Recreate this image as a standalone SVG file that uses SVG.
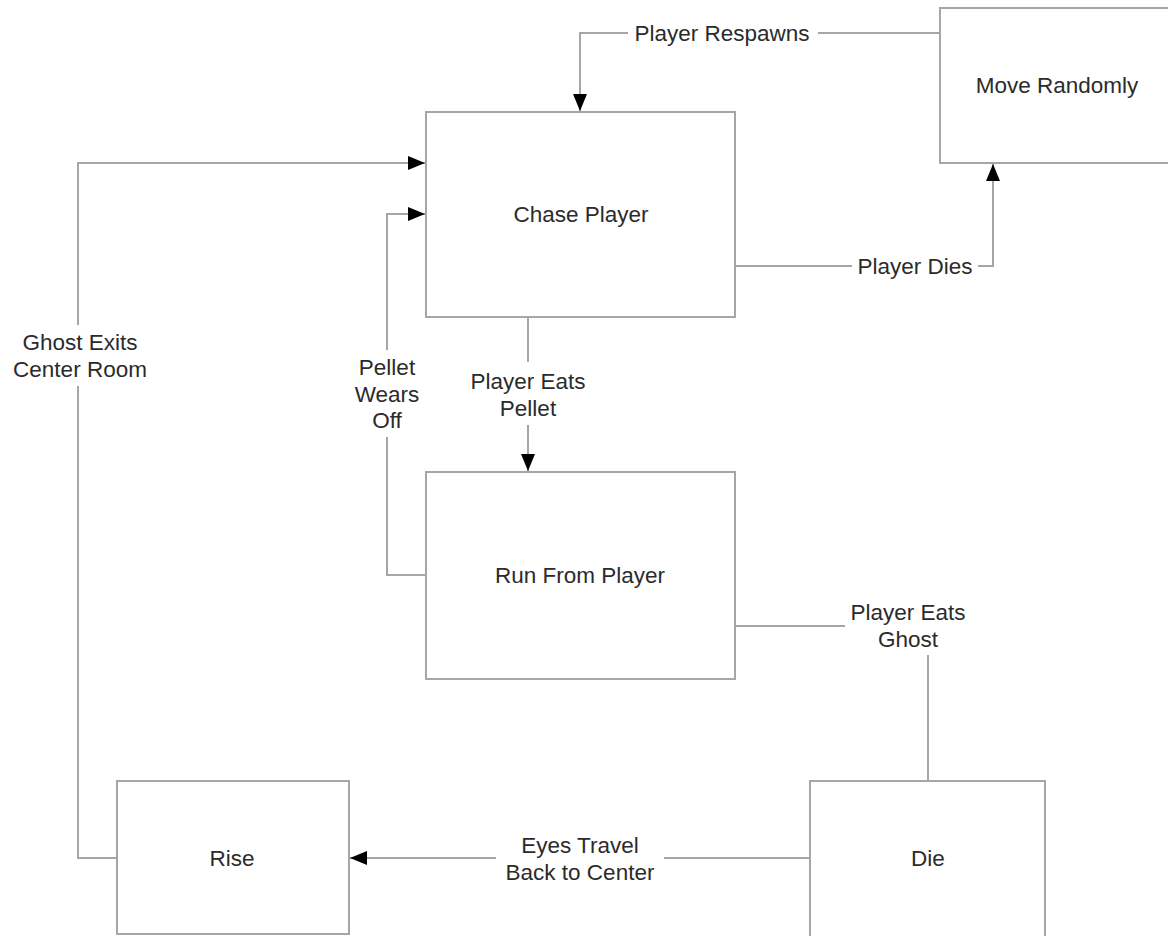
<svg xmlns="http://www.w3.org/2000/svg" width="1168" height="936" viewBox="0 0 1168 936">
<style>
.node{fill:#fff;stroke:#a6a6a6;stroke-width:2}
.lbl{font-family:"Liberation Sans",Arial,sans-serif;font-size:22.5px;fill:#2b2b2b;text-anchor:middle;dominant-baseline:central}
.edge{fill:none;stroke:#a6a6a6;stroke-width:2}
</style>
<defs>
<marker id="arr" markerUnits="userSpaceOnUse" markerWidth="18" markerHeight="14" refX="17" refY="7" orient="auto">
<path d="M0,0 L17,7 L0,14 Z" fill="#000"/>
</marker>
</defs>
<rect width="1168" height="936" fill="#fff"/>
<g id="connectors">
<path class="edge" d="M940,33 H818"/>
<path class="edge" d="M628,33 H580 V111" marker-end="url(#arr)"/>
<path class="edge" d="M735,266 H852"/>
<path class="edge" d="M978,266 H993 V164" marker-end="url(#arr)"/>
<path class="edge" d="M528,318 V362"/>
<path class="edge" d="M528,425 V471" marker-end="url(#arr)"/>
<path class="edge" d="M426,575 H387 V437"/>
<path class="edge" d="M387,350 V214 H425" marker-end="url(#arr)"/>
<path class="edge" d="M117,858 H78 V386"/>
<path class="edge" d="M78,325 V163 H425" marker-end="url(#arr)"/>
<path class="edge" d="M735,626 H845"/>
<path class="edge" d="M928,655 V780"/>
<path class="edge" d="M810,858 H664"/>
<path class="edge" d="M496,858 H350" marker-end="url(#arr)"/>
<text class="lbl" x="722" y="33">Player Respawns</text>
<text class="lbl" x="915" y="266">Player Dies</text>
<text class="lbl" x="528" y="381">Player Eats</text>
<text class="lbl" x="528" y="408">Pellet</text>
<text class="lbl" x="387" y="367">Pellet</text>
<text class="lbl" x="387" y="394">Wears</text>
<text class="lbl" x="387" y="420">Off</text>
<text class="lbl" x="80" y="342">Ghost Exits</text>
<text class="lbl" x="80" y="369">Center Room</text>
<text class="lbl" x="908" y="612">Player Eats</text>
<text class="lbl" x="908" y="639">Ghost</text>
<text class="lbl" x="580" y="845">Eyes Travel</text>
<text class="lbl" x="580" y="872">Back to Center</text>
</g>
<g id="move-randomly">
<rect class="node" x="940" y="8" width="240" height="155"/>
<text class="lbl" x="1057" y="85">Move Randomly</text>
</g>
<g id="chase-player">
<rect class="node" x="426" y="112" width="309" height="205"/>
<text class="lbl" x="581" y="214">Chase Player</text>
</g>
<g id="run-from-player">
<rect class="node" x="426" y="472" width="309" height="207"/>
<text class="lbl" x="580" y="575">Run From Player</text>
</g>
<g id="rise">
<rect class="node" x="117" y="781" width="232" height="153"/>
<text class="lbl" x="232" y="858">Rise</text>
</g>
<g id="die">
<rect class="node" x="810" y="781" width="235" height="165"/>
<text class="lbl" x="928" y="858">Die</text>
</g>
</svg>
